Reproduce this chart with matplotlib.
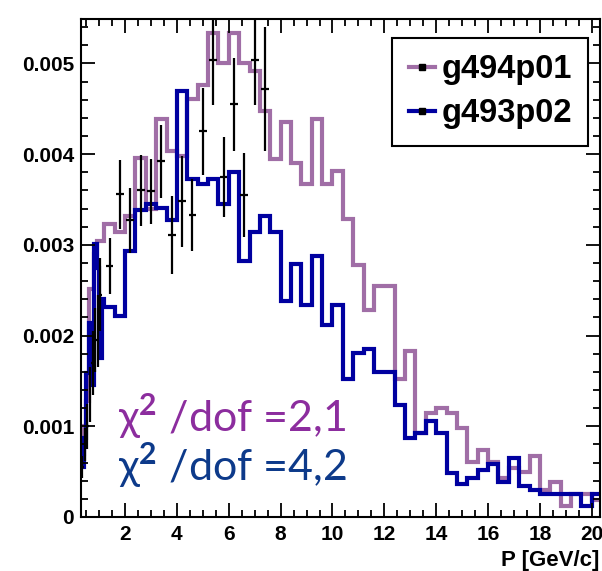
import numpy as np
import matplotlib.pyplot as plt
from matplotlib.lines import Line2D
from matplotlib.ticker import MultipleLocator, FuncFormatter

plt.rcParams['font.family'] = ['Liberation Sans', 'DejaVu Sans']
plt.rcParams['font.weight'] = 'bold'
plt.rcParams['mathtext.fontset'] = 'custom'
plt.rcParams['mathtext.rm'] = 'Lato'
plt.rcParams['mathtext.default'] = 'rm'

# bin edges: fine bins below 1.2 GeV/c, 0.4 GeV/c bins above
low_edges = [0.3, 0.4, 0.5, 0.6, 0.7, 0.8, 0.9, 1.0, 1.1]
edges = np.concatenate([low_edges, np.arange(1.2, 20.41, 0.4)])

# histogram contents (units of 1e-3)
g494p01 = [0.70, 1.00, 1.28, 2.51, 2.51, 2.90, 3.04, 3.04, 3.04,
           3.23, 3.14, 3.32, 3.96, 3.40, 4.39, 4.04, 3.98, 4.61, 4.76,
           5.34, 5.01, 5.34, 5.01, 4.92, 4.48, 3.95, 4.35, 3.90, 3.67,
           4.39, 3.67, 3.81, 3.28, 2.78, 2.28, 2.55, 2.55, 1.52, 1.83,
           0.93, 1.15, 1.20, 1.15, 0.98, 0.61, 0.74, 0.61, 0.43, 0.54,
           0.50, 0.67, 0.30, 0.39, 0.12, 0.25, 0.25, 0.19]
g493p02 = [0.55, 0.87, 1.59, 2.14, 1.45, 3.01, 2.75, 1.75, 2.40,
           2.31, 2.22, 2.93, 3.38, 3.45, 3.41, 3.27, 4.70, 3.73, 3.67,
           3.73, 3.45, 3.80, 2.82, 3.14, 3.32, 3.14, 2.38, 2.79, 2.34,
           2.88, 2.12, 2.34, 1.52, 1.81, 1.85, 1.60, 1.60, 1.24, 0.87,
           0.93, 1.06, 0.93, 0.48, 0.36, 0.43, 0.52, 0.58, 0.39, 0.65,
           0.34, 0.30, 0.25, 0.25, 0.25, 0.25, 0.12, 0.25]

# data points with errors (units of 1e-3)
data_p = [0.35, 0.45, 0.55, 0.65, 0.75, 0.85, 0.95, 1.05, 1.4, 1.8, 2.2,
          2.6, 3.0, 3.4, 3.8, 4.2, 4.6, 5.0, 5.4, 5.8, 6.2, 6.6, 7.0, 7.4]
data_val = [0.55, 0.80, 1.00, 1.35, 1.70, 1.95, 2.05, 2.45, 2.77, 3.56, 3.27,
            3.60, 3.59, 3.92, 3.11, 3.48, 3.33, 4.25, 5.04, 3.75, 4.55, 3.55, 5.04, 4.72]
data_err = [0.12, 0.18, 0.25, 0.30, 0.35, 0.35, 0.40, 0.40, 0.31, 0.38, 0.36,
            0.39, 0.36, 0.40, 0.43, 0.50, 0.40, 0.48, 0.50, 0.44, 0.51, 0.46, 0.50, 0.68]
data_xerr = [0.05] * 8 + [0.15] * 16

purple = '#a06ea6'
blue = '#0000a0'

fig = plt.figure(figsize=(6.02, 5.71), dpi=100)
ax = fig.add_axes([81/602, 1 - 517/571, 518.5/602, 498/571])

s = 1e-3
ax.stairs(np.array(g494p01)*s, edges, color=purple, lw=3, baseline=None)
ax.stairs(np.array(g493p02)*s, edges, color=blue, lw=3, baseline=None)
ax.errorbar(data_p, np.array(data_val)*s, yerr=np.array(data_err)*s, xerr=data_xerr,
            fmt='none', ecolor='black', elinewidth=1.6, capsize=0)

ax.set_xlim(0.3, 20.3)
ax.set_ylim(0, 0.00549)
ax.xaxis.set_major_locator(MultipleLocator(2))
ax.xaxis.set_minor_locator(MultipleLocator(0.5))
ax.yaxis.set_major_locator(MultipleLocator(0.001))
ax.yaxis.set_minor_locator(MultipleLocator(0.0002))
ax.yaxis.set_major_formatter(FuncFormatter(lambda v, p: '0' if abs(v) < 1e-9 else '%.3f' % v))
ax.tick_params(which='both', direction='in', top=True, right=True, width=1.3, labelsize=15)
ax.tick_params(which='major', length=10)
ax.tick_params(which='minor', length=5)
ax.tick_params(axis='x', pad=6)
ax.tick_params(axis='y', pad=5)
for sp in ax.spines.values():
    sp.set_linewidth(1.5)

ax.set_xlabel('P [GeV/c]', fontsize=16, fontweight='bold', loc='right', labelpad=4)

handles = [Line2D([], [], color=purple, lw=3, marker='s', ms=4, mfc='black', mec='black'),
           Line2D([], [], color=blue, lw=3, marker='s', ms=4, mfc='black', mec='black')]
leg = ax.legend(handles, ['g494p01', 'g493p02'], loc='upper right',
                bbox_to_anchor=(0.978, 0.962), borderaxespad=0, fancybox=False,
                prop={'weight': 'bold', 'size': 23.5}, handlelength=0.8,
                handletextpad=0.2, borderpad=0.5, labelspacing=0.4, framealpha=1)
leg.get_frame().set_edgecolor('black')
leg.get_frame().set_linewidth(1.5)

fig.text(118/602, 1 - 432/571, 'χ$^{2}$ /dof =2,1', color='#8c2d9e', fontsize=31,
         family=['Lato', 'DejaVu Sans'], fontweight='normal', va='baseline')
fig.text(118/602, 1 - 481/571, 'χ$^{2}$ /dof =4,2', color='#0d3a8a', fontsize=31,
         family=['Lato', 'DejaVu Sans'], fontweight='normal', va='baseline')

fig.savefig('out.png', dpi=100)
